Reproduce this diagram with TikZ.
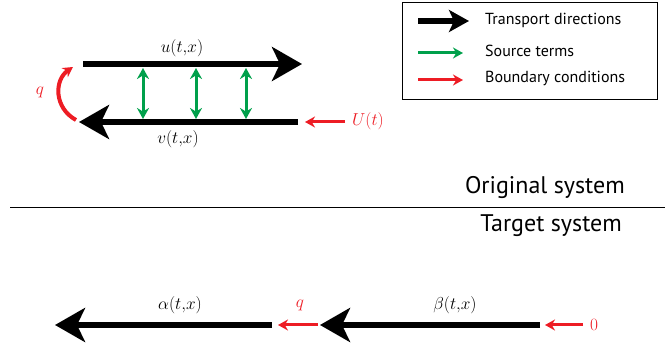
\documentclass[tikz,border=0pt]{standalone}
\usepackage{fontspec}
\setsansfont{PT Sans}
\usetikzlibrary{arrows.meta}

\definecolor{srcgreen}{RGB}{0,160,75}
\definecolor{bcred}{RGB}{237,28,36}

\tikzset{
  transport/.style={line width=6pt, -{Stealth[length=30pt,width=34pt,inset=8pt]}},
  smalltransport/.style={line width=6pt, -{Stealth[length=20pt,width=22pt,inset=5pt]}},
  source/.style={srcgreen, line width=3pt, {Stealth[length=11pt,width=12pt]}-{Stealth[length=11pt,width=12pt]}},
  srclegend/.style={srcgreen, line width=3pt, -{Stealth[length=10pt,width=11pt]}},
  boundary/.style={bcred, line width=3pt, -{Stealth[length=10pt,width=11pt]}},
  mathlabel/.style={font=\fontsize{16}{18}\selectfont, inner sep=0pt},
  legendtext/.style={font=\sffamily\fontsize{16}{18}\selectfont, anchor=west, inner sep=0pt},
  systemtext/.style={font=\sffamily\fontsize{24}{28}\selectfont, anchor=east, inner sep=0pt},
}

\begin{document}
\begin{tikzpicture}[x=1pt, y=-1pt]

\useasboundingbox (0,0) rectangle (665,347);

% original system
\coordinate (u0) at (83,64);
\coordinate (u1) at (302,64);
\coordinate (v0) at (298,122);
\coordinate (v1) at (79,122);
\draw[transport] (u0) -- (u1);
\draw[transport] (v0) -- (v1);
\node[mathlabel] (ulabel) at (182,48) {$u(t{,}x)$};
\node[mathlabel] (vlabel) at (178,139) {$v(t{,}x)$};

\foreach \x [count=\i] in {143,196,246}
{
  \coordinate (top\i) at (\x,68);
  \coordinate (bot\i) at (\x,119);
  \draw[source] (top\i) -- (bot\i);
}

\coordinate (qbot) at (76,120);
\coordinate (qtop) at (73,67);
\draw[boundary, line width=4pt] (qbot) .. controls (54,108) and (54,80) .. (qtop);
\node[mathlabel, bcred] (qlabel) at (40,92) {$q$};

\coordinate (Ustart) at (345,122);
\coordinate (Uend) at (305,122);
\draw[boundary] (Ustart) -- (Uend);
\node[mathlabel, bcred, anchor=west] (Ulabel) at (352,121) {$U(t)$};

% legend
\node[draw, line width=0.8pt, minimum width=255pt, minimum height=97pt, anchor=north west] (legend) at (402,2) {};
\coordinate (l1a) at (418,21);
\coordinate (l1b) at (469,21);
\coordinate (l2a) at (418,53);
\coordinate (l2b) at (463,53);
\coordinate (l3a) at (418,80);
\coordinate (l3b) at (463,80);
\draw[smalltransport] (l1a) -- (l1b);
\draw[srclegend] (l2a) -- (l2b);
\draw[boundary] (l3a) -- (l3b);
\node[legendtext] (ltransport) at (485,20) {Transport directions};
\node[legendtext] (lsource) at (485,51) {Source terms};
\node[legendtext] (lboundary) at (485,78) {Boundary conditions};

% separation
\coordinate (sepL) at (10,207);
\coordinate (sepR) at (665,207);
\draw[line width=0.8pt] (sepL) -- (sepR);
\node[systemtext] (original) at (625,188) {Original system};
\node[systemtext] (target) at (622,226) {Target system};

% target system
\coordinate (a0) at (272,325);
\coordinate (a1) at (55,325);
\coordinate (b0) at (540,325);
\coordinate (b1) at (320,325);
\draw[transport] (a0) -- (a1);
\draw[transport] (b0) -- (b1);
\node[mathlabel] (alabel) at (180,305) {$\alpha(t{,}x)$};
\node[mathlabel] (blabel) at (455,305) {$\beta(t{,}x)$};

\coordinate (qa) at (318,325);
\coordinate (qb) at (278,325);
\draw[boundary] (qa) -- (qb);
\node[mathlabel, bcred] (qlabel2) at (300,305) {$q$};

\coordinate (za) at (583,325);
\coordinate (zb) at (545,325);
\draw[boundary] (za) -- (zb);
\node[mathlabel, bcred] (zlabel) at (594,325) {$0$};

\end{tikzpicture}
\end{document}
